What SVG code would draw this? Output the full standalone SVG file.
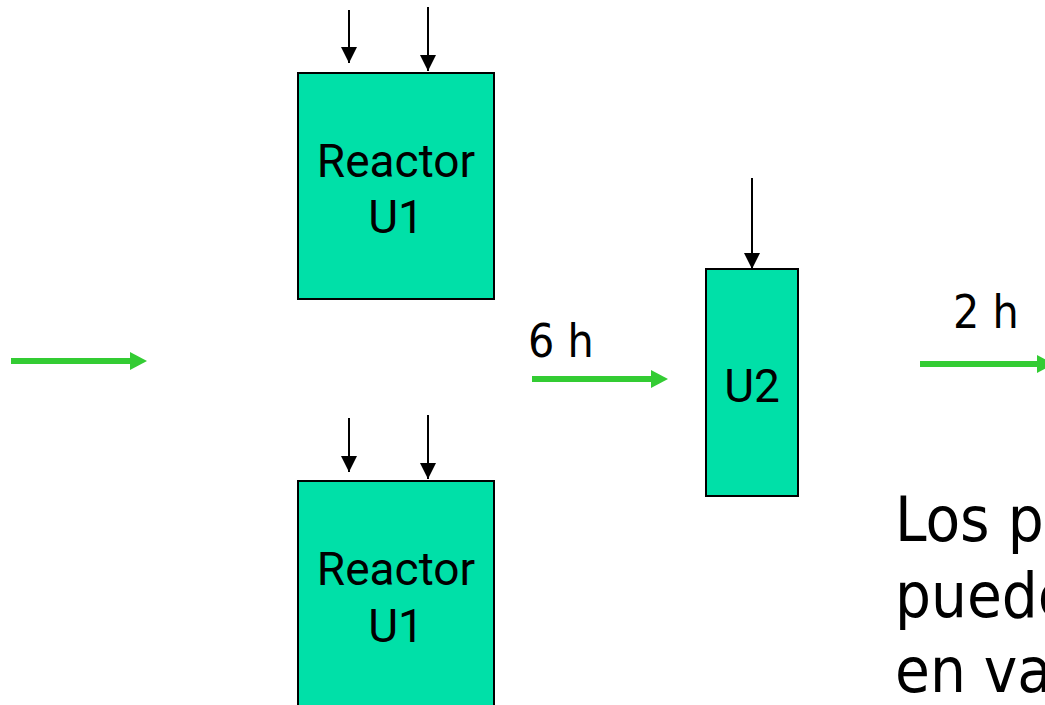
<svg xmlns="http://www.w3.org/2000/svg" width="1045" height="705" viewBox="0 0 1045 705">
<defs>
<style>
.box{fill:#00E0A8;stroke:#000;stroke-width:2}
.lbl{font-family:Roboto,"Liberation Sans",sans-serif;font-size:46px;fill:#000;text-anchor:middle}
.tx{font-family:"DejaVu Sans Condensed","DejaVu Sans",sans-serif;fill:#000}
.blk{stroke:#000;stroke-width:2;fill:none}
.grn{stroke:#33CC33;stroke-width:6;fill:none}
</style>
<marker id="ab" markerUnits="userSpaceOnUse" markerWidth="16" markerHeight="16" viewBox="0 0 16 16" refX="16" refY="8" orient="auto">
<path d="M0,0 L16,8 L0,16 Z" fill="#000"/>
</marker>
</defs>
<g id="reactor-top">
<rect class="box" x="298" y="73" width="196" height="226"/>
<text class="lbl" x="396" y="177">Reactor</text>
<text class="lbl" x="396" y="233">U1</text>
</g>
<g id="reactor-bottom">
<rect class="box" x="298" y="481" width="196" height="240"/>
<text class="lbl" x="396" y="585">Reactor</text>
<text class="lbl" x="396" y="642">U1</text>
</g>
<g id="u2">
<rect class="box" x="706" y="269" width="92" height="227"/>
<text class="lbl" x="752" y="402">U2</text>
</g>
<g id="connectors">
<line class="blk" x1="349" y1="10" x2="349" y2="63" marker-end="url(#ab)"/>
<line class="blk" x1="428" y1="7" x2="428" y2="71" marker-end="url(#ab)"/>
<line class="blk" x1="349" y1="418" x2="349" y2="472" marker-end="url(#ab)"/>
<line class="blk" x1="428" y1="415" x2="428" y2="479" marker-end="url(#ab)"/>
<line class="blk" x1="752" y1="178" x2="752" y2="269" marker-end="url(#ab)"/>
<line class="grn" x1="11" y1="361" x2="132" y2="361"/>
<path d="M130,352 L147,361 L130,370 Z" fill="#33CC33"/>
<line class="grn" x1="532" y1="379" x2="653" y2="379"/>
<path d="M651,370 L668,379 L651,388 Z" fill="#33CC33"/>
<line class="grn" x1="920" y1="364" x2="1039" y2="364"/>
<path d="M1037,355 L1054,364 L1037,373 Z" fill="#33CC33"/>
</g>
<g id="labels">
<text class="tx" x="528" y="357" font-size="46">6 h</text>
<text class="tx" x="953" y="328" font-size="46">2 h</text>
<text class="tx" x="895" y="541" font-size="63">Los p</text>
<text class="tx" x="895" y="617" font-size="63">puede</text>
<text class="tx" x="895" y="692" font-size="63">en va</text>
</g>
</svg>
